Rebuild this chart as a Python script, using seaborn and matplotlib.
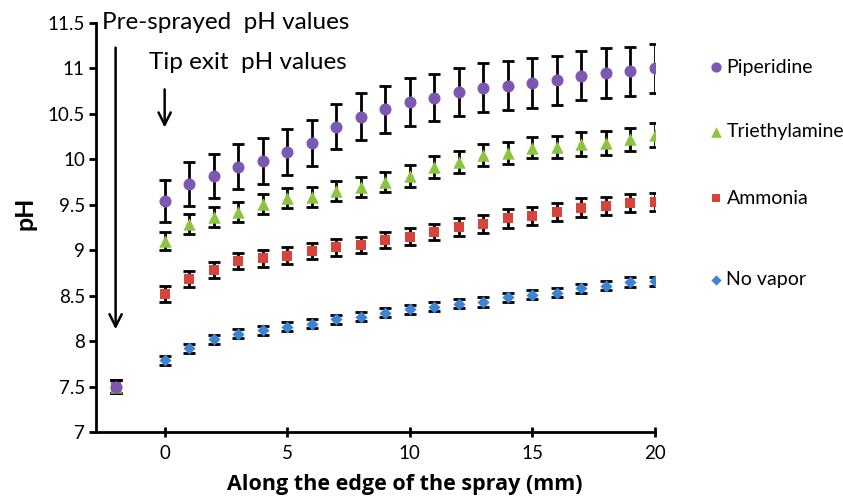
import numpy as np
import pandas as pd
import matplotlib
matplotlib.use("Agg")
import matplotlib.pyplot as plt
import seaborn as sns

# ---------------- data ----------------
distance_mm = [0, 1, 2, 3, 4, 5, 6, 7, 8, 9, 10, 11, 12, 13, 14, 15, 16, 17, 18, 19, 20]

piperidine = [9.54, 9.73, 9.82, 9.92, 9.98, 10.08, 10.18, 10.36, 10.47, 10.55, 10.63,
              10.68, 10.74, 10.79, 10.81, 10.84, 10.87, 10.92, 10.95, 10.97, 11.00]
piperidine_err = [0.23, 0.24, 0.24, 0.25, 0.25, 0.25, 0.25, 0.25, 0.26, 0.26, 0.26,
                  0.26, 0.26, 0.27, 0.27, 0.27, 0.27, 0.27, 0.27, 0.27, 0.27]

triethylamine = [9.10, 9.29, 9.37, 9.42, 9.51, 9.57, 9.59, 9.65, 9.70, 9.75, 9.82,
                 9.92, 9.97, 10.05, 10.07, 10.13, 10.14, 10.17, 10.18, 10.22, 10.27]
triethylamine_err = [0.10, 0.11, 0.11, 0.11, 0.11, 0.11, 0.11, 0.11, 0.11, 0.11, 0.12,
                     0.12, 0.12, 0.12, 0.12, 0.12, 0.12, 0.13, 0.13, 0.13, 0.13]

ammonia = [8.52, 8.68, 8.78, 8.88, 8.91, 8.94, 8.99, 9.03, 9.06, 9.11, 9.15,
           9.20, 9.26, 9.29, 9.35, 9.38, 9.42, 9.47, 9.49, 9.52, 9.53]
ammonia_err = [0.09, 0.09, 0.09, 0.09, 0.09, 0.09, 0.09, 0.09, 0.09, 0.09, 0.09,
               0.09, 0.10, 0.10, 0.10, 0.10, 0.10, 0.10, 0.10, 0.10, 0.10]

no_vapor = [7.79, 7.92, 8.02, 8.08, 8.12, 8.16, 8.19, 8.24, 8.27, 8.31, 8.35,
            8.38, 8.41, 8.43, 8.48, 8.51, 8.53, 8.58, 8.61, 8.65, 8.66]
no_vapor_err = [0.05, 0.05, 0.05, 0.05, 0.05, 0.05, 0.05, 0.05, 0.05, 0.05, 0.05,
                0.05, 0.05, 0.05, 0.05, 0.05, 0.05, 0.05, 0.05, 0.05, 0.05]

pre_sprayed_x = -2
pre_sprayed_ph = 7.50
pre_sprayed_err = 0.07

series_names = ["Piperidine", "Triethylamine", "Ammonia", "No vapor"]
x_ticks = [0, 5, 10, 15, 20]
y_ticks = [7, 7.5, 8, 8.5, 9, 9.5, 10, 10.5, 11, 11.5]
y_tick_labels = ["7", "7.5", "8", "8.5", "9", "9.5", "10", "10.5", "11", "11.5"]

# ---------------- build table ----------------
values = {"Piperidine": (piperidine, piperidine_err),
          "Triethylamine": (triethylamine, triethylamine_err),
          "Ammonia": (ammonia, ammonia_err),
          "No vapor": (no_vapor, no_vapor_err)}
rows = []
for name in reversed(series_names):  # purple drawn last (on top)
    v, e = values[name]
    rows.append((name, pre_sprayed_x, pre_sprayed_ph, pre_sprayed_err))
    for xx, yy, ee in zip(distance_mm, v, e):
        rows.append((name, xx, yy, ee))
df = pd.DataFrame(rows, columns=["series", "x", "pH", "err"])

# ---------------- style ----------------
sns.set_style("ticks")
plt.rcParams["font.family"] = ["Lato", "DejaVu Sans"]
plt.rcParams["text.color"] = "black"
plt.rcParams["axes.labelcolor"] = "black"

palette = {"Piperidine": "#7d58b2", "Triethylamine": "#8cc43f",
           "Ammonia": "#d8443c", "No vapor": "#3d84d4"}
markers = {"Piperidine": "o", "Triethylamine": "^", "Ammonia": "s", "No vapor": "D"}
sizes = {"Piperidine": 75, "Triethylamine": 80, "Ammonia": 55, "No vapor": 38}

fig = plt.figure(figsize=(8.43, 4.97), dpi=100)
ax = fig.add_axes([96 / 843, 1 - 432 / 497, (655 - 96) / 843, (432 - 23) / 497])

# error bars (black, capped)
ax.errorbar(df["x"], df["pH"], yerr=df["err"], fmt="none", ecolor="black",
            elinewidth=2.0, capsize=4, capthick=2.0, zorder=2)

for name in reversed(series_names):
    sub = df[df["series"] == name]
    sns.scatterplot(data=sub, x="x", y="pH", color=palette[name], marker=markers[name],
                    s=sizes[name], linewidth=0, ax=ax, zorder=3, label=name, legend=False)

ax.set_xlim(-2.8, 20)
ax.set_ylim(7, 11.5)
ax.set_xticks(x_ticks)
ax.set_xticklabels([str(t) for t in x_ticks])
ax.set_yticks(y_ticks)
ax.set_yticklabels(y_tick_labels)
for s in ["top", "right"]:
    ax.spines[s].set_visible(False)
for s in ["left", "bottom"]:
    ax.spines[s].set_linewidth(2.0)
    ax.spines[s].set_color("black")
ax.tick_params(axis="y", direction="out", length=5, width=2, labelsize=13.5, pad=3, colors="black")
ax.tick_params(axis="x", direction="inout", length=7, width=2, labelsize=13.5, pad=6, colors="black")

ax.set_xlabel("Along the edge of the spray (mm)", fontsize=15.5, fontweight="bold",
              family=["Open Sans", "DejaVu Sans"])
ax.xaxis.label.set_va("baseline")
ax.xaxis.set_label_coords((405 - 96) / 559, (432 - 490) / 409)
ax.set_ylabel("pH", fontsize=18, fontweight="bold")
ax.yaxis.set_label_coords((37 - 96) / 559, (432 - 213) / 409)

# annotations
ax.text(-2.55, 11.51, "Pre-sprayed  pH values", fontsize=17.5, va="center", ha="left", clip_on=False)
ax.annotate("", xy=(-2, 8.1), xytext=(-2, 11.26),
            arrowprops=dict(arrowstyle="->", lw=1.8, color="black", mutation_scale=22))
ax.text(-0.65, 11.06, "Tip exit  pH values", fontsize=17.5, va="center", ha="left", clip_on=False)
ax.annotate("", xy=(0, 10.32), xytext=(0, 10.8),
            arrowprops=dict(arrowstyle="->", lw=1.8, color="black", mutation_scale=22))

# legend entries (placed individually, as in the reference)
handles = {}
for h in ax.collections:
    lab = h.get_label()
    if lab in series_names:
        handles[lab] = h
legend_y = {"Piperidine": 67, "Triethylamine": 132, "Ammonia": 198, "No vapor": 280}
for name in series_names:
    fig.legend([handles[name]], [name], loc="center left",
               bbox_to_anchor=(708 / 843, 1 - legend_y[name] / 497),
               frameon=False, fontsize=14, handlelength=0.8, handletextpad=0.15,
               borderpad=0, borderaxespad=0, markerscale=0.85)

fig.savefig("out.png", dpi=100)
